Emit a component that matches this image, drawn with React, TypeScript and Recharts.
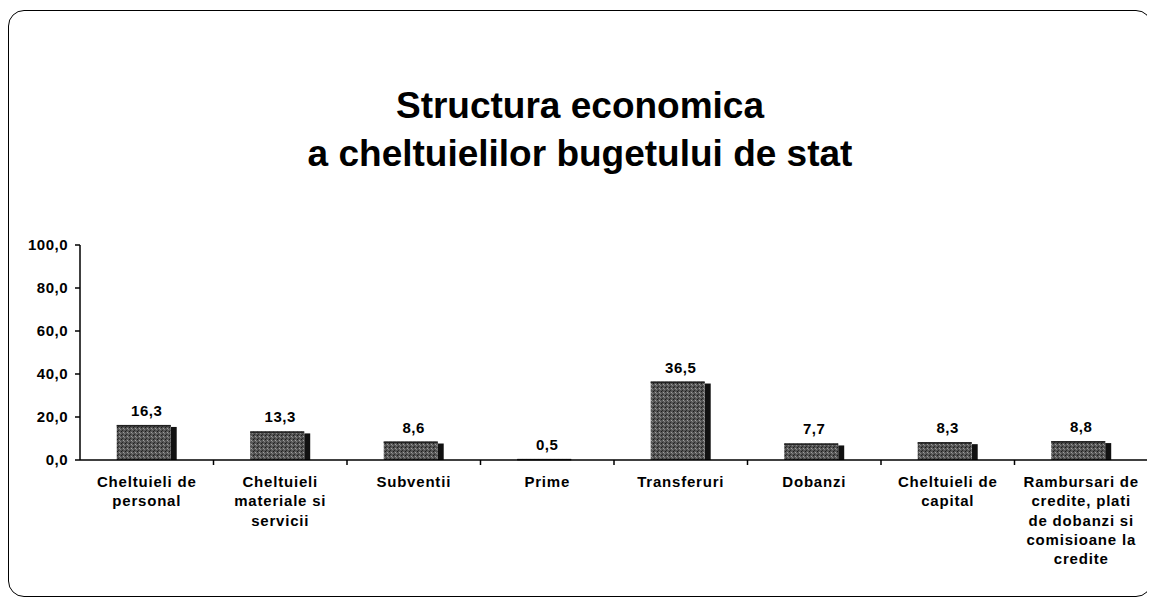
import type { FC } from 'react';
import { Bar, BarChart, LabelList, XAxis, YAxis } from 'recharts';

const categories = [
  'Cheltuieli de\npersonal',
  'Cheltuieli\nmateriale si\nservicii',
  'Subventii',
  'Prime',
  'Transferuri',
  'Dobanzi',
  'Cheltuieli de\ncapital',
  'Rambursari de\ncredite, plati\nde dobanzi si\ncomisioane la\ncredite',
];
const values = [16.3, 13.3, 8.6, 0.5, 36.5, 7.7, 8.3, 8.8];
const yTicks = [0, 20, 40, 60, 80, 100];

const data = categories.map((name, i) => ({ name, value: values[i] }));

const CHART_W = 1142;
const CHART_H = 585;
const Y_AXIS_W = 71;
const MARGIN_RIGHT = 3;
const TOP = 234;
const PLOT_H = 215;
const BAND = (CHART_W - Y_AXIS_W - MARGIN_RIGHT) / categories.length;

const fmt = (v: number) => v.toFixed(1).replace('.', ',');

const font = 'Arial, "Liberation Sans", Helvetica, sans-serif';

const CategoryTick: FC<any> = ({ x, y, payload, index }) => {
  const lines = String(payload.value).split('\n');
  return (
    <g>
      {index < categories.length - 1 && (
        <line x1={x + BAND / 2} x2={x + BAND / 2} y1={y - 8} y2={y - 3} stroke="#000" strokeWidth={1.5} />
      )}
      <text
        x={x}
        y={y}
        textAnchor="middle"
        fontFamily={font}
        fontWeight="bold"
        fontSize={15}
        letterSpacing={0.8}
        fill="#000"
      >
        {lines.map((l, i) => (
          <tspan key={i} x={x} dy={i === 0 ? 19 : 19.3}>
            {l}
          </tspan>
        ))}
      </text>
    </g>
  );
};

const ShadedBar: FC<any> = ({ x, y, width, height }) => {
  if (!height || height <= 0) return null;
  const shadow = 6;
  return (
    <g>
      <rect x={x + width - shadow} y={y + 2} width={shadow} height={height - 2} fill="#111" />
      <rect x={x} y={y} width={width - shadow} height={height} fill="url(#dots)" />
      <rect x={x} y={y} width={width - shadow} height={1.5} fill="#222" />
    </g>
  );
};

const App: FC = () => {
  return (
    <div
      style={{
        position: 'relative',
        width: CHART_W,
        height: CHART_H,
        border: '1.5px solid #000',
        borderRadius: 16,
        background: '#fff',
        marginTop: 2,
      }}
    >
      <div
        style={{
          position: 'absolute',
          top: 71,
          left: 0,
          width: '100%',
          textAlign: 'center',
          fontFamily: font,
          fontWeight: 'bold',
          fontSize: 37,
          lineHeight: '48px',
          color: '#000',
        }}
      >
        Structura economica
        <br />a cheltuielilor bugetului de stat
      </div>
      <BarChart
        width={CHART_W}
        height={CHART_H}
        data={data}
        margin={{ top: TOP, right: MARGIN_RIGHT, left: 0, bottom: 0 }}
        barCategoryGap="27.5%"
      >
        <defs>
          <pattern id="dots" width="4" height="4" patternUnits="userSpaceOnUse">
            <rect width="4" height="4" fill="#555555" />
            <rect x="0" y="0" width="1" height="1" fill="#1a1a1a" />
            <rect x="2" y="1" width="1" height="1" fill="#a0a0a0" />
            <rect x="1" y="3" width="1" height="1" fill="#2a2a2a" />
            <rect x="3" y="2" width="1" height="1" fill="#858585" />
          </pattern>
        </defs>
        <XAxis
          dataKey="name"
          height={CHART_H - TOP - PLOT_H}
          axisLine={{ stroke: '#000', strokeWidth: 1.5 }}
          tickLine={false}
          interval={0}
          tick={<CategoryTick />}
        />
        <YAxis
          width={Y_AXIS_W}
          domain={[0, 100]}
          ticks={yTicks}
          tickFormatter={fmt}
          axisLine={{ stroke: '#000', strokeWidth: 1.5 }}
          tickLine={{ stroke: '#000', strokeWidth: 1.5 }}
          tickSize={5}
          tickMargin={7}
          tick={{ fill: '#000', fontFamily: font, fontWeight: 'bold', fontSize: 15, letterSpacing: 0.5 }}
        />
        <Bar dataKey="value" shape={<ShadedBar />} isAnimationActive={false}>
          <LabelList
            dataKey="value"
            position="top"
            offset={9}
            formatter={(v: any) => fmt(Number(v))}
            style={{ fill: '#000', fontFamily: font, fontWeight: 'bold', fontSize: 15, letterSpacing: 0.5 }}
          />
        </Bar>
      </BarChart>
    </div>
  );
};

export default App;
